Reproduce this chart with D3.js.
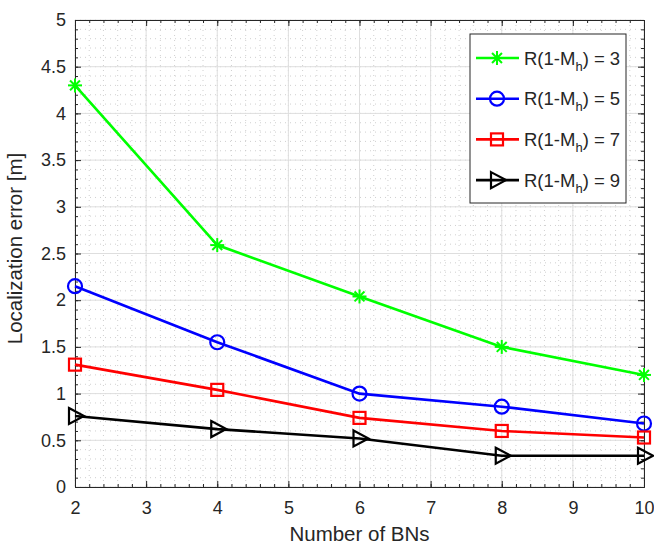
<!DOCTYPE html>
<html>
<head>
<meta charset="utf-8">
<script src="https://cdn.jsdelivr.net/npm/d3@7"></script>
<style>
  body { margin: 0; background: #fff; }
  svg text { font-family: "Liberation Sans", Arial, sans-serif; fill: #262626; }
</style>
</head>
<body>
<svg id="chart" width="654" height="546"></svg>
<script>
// data
var bns = [2, 4, 6, 8, 10];
var err3 = [4.30, 2.59, 2.04, 1.50, 1.20];
var err5 = [2.15, 1.55, 1.00, 0.86, 0.68];
var err7 = [1.31, 1.04, 0.74, 0.60, 0.53];
var err9 = [0.76, 0.62, 0.52, 0.335, 0.335];
var seriesNames = ["3", "5", "7", "9"];
var xTicks = [2, 3, 4, 5, 6, 7, 8, 9, 10];
var yTicks = [0, 0.5, 1, 1.5, 2, 2.5, 3, 3.5, 4, 4.5, 5];

var series = [
  {name: seriesNames[0], values: err3, color: "#00ff00", marker: "star"},
  {name: seriesNames[1], values: err5, color: "#0000ff", marker: "circle"},
  {name: seriesNames[2], values: err7, color: "#ff0000", marker: "square"},
  {name: seriesNames[3], values: err9, color: "#000000", marker: "triangle"}
];

var svg = d3.select("#chart");
var margin = {top: 20, right: 10, bottom: 59, left: 75};
var width = 654 - margin.left - margin.right;
var height = 546 - margin.top - margin.bottom;
var g = svg.append("g").attr("transform", "translate(" + margin.left + "," + margin.top + ")");

var x = d3.scaleLinear().domain([2, 10]).range([0, width]);
var y = d3.scaleLinear().domain([0, 5]).range([height, 0]);

// minor grid
var xMinor = d3.range(2, 10.001, 0.2);
var yMinor = d3.range(0, 5.001, 0.1);
g.append("g").selectAll("line").data(xMinor).enter().append("line")
  .attr("x1", function(d) { return x(d); }).attr("x2", function(d) { return x(d); })
  .attr("y1", 0).attr("y2", height)
  .attr("stroke", "#c4c4c4").attr("stroke-width", 0.8).attr("stroke-dasharray", "1,4");
g.append("g").selectAll("line").data(yMinor).enter().append("line")
  .attr("y1", function(d) { return y(d); }).attr("y2", function(d) { return y(d); })
  .attr("x1", 0).attr("x2", width)
  .attr("stroke", "#c4c4c4").attr("stroke-width", 0.8).attr("stroke-dasharray", "1,4");

// major grid
g.append("g").selectAll("line").data(xTicks).enter().append("line")
  .attr("x1", function(d) { return x(d); }).attr("x2", function(d) { return x(d); })
  .attr("y1", 0).attr("y2", height)
  .attr("stroke", "#dedede").attr("stroke-width", 1);
g.append("g").selectAll("line").data(yTicks).enter().append("line")
  .attr("y1", function(d) { return y(d); }).attr("y2", function(d) { return y(d); })
  .attr("x1", 0).attr("x2", width)
  .attr("stroke", "#dedede").attr("stroke-width", 1);

// axes, ticks pointing inward
function styleAxis(sel) {
  sel.select(".domain").attr("stroke", "#262626");
  sel.selectAll(".tick line").attr("stroke", "#262626");
}
// minor ticks
g.append("g").attr("transform", "translate(0," + height + ")")
  .call(d3.axisBottom(x).tickValues(xMinor).tickSizeInner(-3).tickSizeOuter(0).tickFormat(""))
  .call(styleAxis);
g.append("g")
  .call(d3.axisTop(x).tickValues(xMinor).tickSizeInner(-3).tickSizeOuter(0).tickFormat(""))
  .call(styleAxis);
g.append("g")
  .call(d3.axisLeft(y).tickValues(yMinor).tickSizeInner(-3).tickSizeOuter(0).tickFormat(""))
  .call(styleAxis);
g.append("g").attr("transform", "translate(" + width + ",0)")
  .call(d3.axisRight(y).tickValues(yMinor).tickSizeInner(-3).tickSizeOuter(0).tickFormat(""))
  .call(styleAxis);

g.append("g").attr("transform", "translate(0," + height + ")")
  .call(d3.axisBottom(x).tickValues(xTicks).tickSizeInner(-6).tickSizeOuter(0).tickPadding(14))
  .call(styleAxis)
  .selectAll("text").attr("font-size", 18).style("font-family", "Liberation Sans, Arial, sans-serif").attr("fill", "#262626");
g.append("g")
  .call(d3.axisTop(x).tickValues(xTicks).tickSizeInner(-6).tickSizeOuter(0).tickFormat(""))
  .call(styleAxis);
g.append("g")
  .call(d3.axisLeft(y).tickValues(yTicks).tickSizeInner(-6).tickSizeOuter(0).tickPadding(9).tickFormat(d3.format("")))
  .call(styleAxis)
  .selectAll("text").attr("font-size", 18).style("font-family", "Liberation Sans, Arial, sans-serif").attr("fill", "#262626");
g.append("g").attr("transform", "translate(" + width + ",0)")
  .call(d3.axisRight(y).tickValues(yTicks).tickSizeInner(-6).tickSizeOuter(0).tickFormat(""))
  .call(styleAxis);

// axis labels
g.append("text")
  .attr("x", width / 2).attr("y", height + 54)
  .attr("text-anchor", "middle").attr("font-size", 20.5)
  .text("Number of BNs");
g.append("text")
  .attr("transform", "translate(" + (-53) + "," + (height / 2 - 5) + ") rotate(-90)")
  .attr("text-anchor", "middle").attr("font-size", 20.5)
  .text("Localization error [m]");

// markers
function drawMarker(sel, type, color) {
  if (type === "star") {
    var r = 7;
    [0, 45, 90, 135].forEach(function(a) {
      var rad = a * Math.PI / 180;
      sel.append("line")
        .attr("x1", -r * Math.cos(rad)).attr("y1", -r * Math.sin(rad))
        .attr("x2", r * Math.cos(rad)).attr("y2", r * Math.sin(rad))
        .attr("stroke", color).attr("stroke-width", 2);
    });
  } else if (type === "circle") {
    sel.append("circle").attr("r", 7)
      .attr("fill", "none").attr("stroke", color).attr("stroke-width", 2.2);
  } else if (type === "square") {
    sel.append("rect").attr("x", -6).attr("y", -6).attr("width", 12).attr("height", 12)
      .attr("fill", "none").attr("stroke", color).attr("stroke-width", 2.2);
  } else {
    sel.append("path").attr("d", "M-6,-8 L9,0 L-6,8 Z")
      .attr("fill", "none").attr("stroke", color).attr("stroke-width", 2.2);
  }
}

var line = d3.line()
  .x(function(d, i) { return x(bns[i]); })
  .y(function(d) { return y(d); });

series.forEach(function(s) {
  g.append("path").datum(s.values)
    .attr("d", line)
    .attr("fill", "none").attr("stroke", s.color).attr("stroke-width", 2.6);
  g.append("g").selectAll("g").data(s.values).enter().append("g")
    .attr("transform", function(d, i) { return "translate(" + x(bns[i]) + "," + y(d) + ")"; })
    .each(function() { drawMarker(d3.select(this), s.marker, s.color); });
});

// legend
var legend = g.append("g").attr("transform", "translate(" + (470 - margin.left) + "," + (34 - margin.top) + ")");
legend.append("rect")
  .attr("width", 156).attr("height", 169)
  .attr("fill", "#fff").attr("stroke", "#262626").attr("stroke-width", 1);
var items = legend.selectAll("g.item").data(series).enter().append("g")
  .attr("class", "item")
  .attr("transform", function(d, i) { return "translate(0," + (24 + i * 40.7) + ")"; });
items.append("line").attr("x1", 6).attr("x2", 49).attr("y1", 0).attr("y2", 0)
  .attr("stroke", function(d) { return d.color; }).attr("stroke-width", 2.6);
items.each(function(d) {
  var m = d3.select(this).append("g").attr("transform", "translate(27,0)");
  drawMarker(m, d.marker, d.color);
});
var lt = items.append("text").attr("x", 54).attr("y", 6.5).attr("font-size", 18.5).attr("fill", "#000");
lt.append("tspan").text("R(1-M");
lt.append("tspan").attr("font-size", 13).attr("dy", 6).text("h");
lt.append("tspan").attr("dy", -6).text(function(d) { return ") = " + d.name; });
</script>
</body>
</html>
